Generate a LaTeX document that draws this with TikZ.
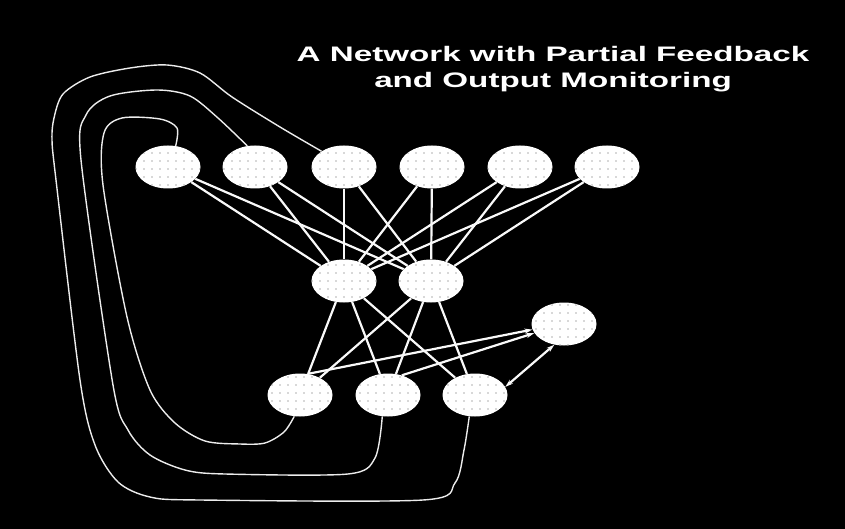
\documentclass[tikz,border=0pt]{standalone}
\usepackage{fontspec}
\setmainfont{Liberation Sans}
\usetikzlibrary{shapes.geometric,patterns.meta,arrows.meta}
\begin{document}
\begin{tikzpicture}[x=1pt,y=-1pt,
  neuron/.style={ellipse, minimum width=65pt, minimum height=43pt, inner sep=0pt,
    fill=white, postaction={pattern={Dots[distance=8pt,radius=0.8pt]}, pattern color=gray!60}},
  link/.style={draw=white!95!gray, line width=2.2pt},
  fback/.style={draw=white!85!gray, line width=1.4pt},
  tip/.style={-{Stealth[length=8pt,width=5pt]}},
  twotip/.style={{Stealth[length=8pt,width=5pt]}-{Stealth[length=8pt,width=5pt]}},
  title/.style={white, font=\bfseries\fontsize{21}{21}\selectfont, anchor=base}]
\path[fill=black, use as bounding box] (0,0) rectangle (845,529);

% title
\node[title] (t1) at (553,62) {\scalebox{1.58}[1]{A Network with Partial Feedback}};
\node[title] (t2) at (553,88) {\scalebox{1.58}[1]{and Output Monitoring}};

% nodes
\node[neuron] (T1) at (168,167) {};
\node[neuron] (T2) at (255,167) {};
\node[neuron] (T3) at (344,167) {};
\node[neuron] (T4) at (432,167) {};
\node[neuron] (T5) at (520,167) {};
\node[neuron] (T6) at (607,167) {};
\node[neuron] (M1) at (344,281) {};
\node[neuron] (M2) at (431,281) {};
\node[neuron] (B1) at (300,395) {};
\node[neuron] (B2) at (388,395) {};
\node[neuron] (B3) at (475,395) {};
\node[neuron] (Mon) at (564,324) {};

% feed-forward connections
\foreach \t in {T1,T2,T3,T4,T5,T6}
  \foreach \m in {M1,M2}
    \draw[link] (\t) -- (\m);
\foreach \m in {M1,M2}
  \foreach \b in {B1,B2,B3}
    \draw[link] (\m) -- (\b);

% output monitoring
\draw[link,tip] (B1.70) -- (Mon.190);
\draw[link,tip] (B2.55) -- (Mon.197);
\draw[link,twotip] (B3.15) -- (Mon.245);

% feedback loops
\draw[fback] plot[smooth, tension=0.5] coordinates {(T1.70) (177,128) (160,119) (122,118) (104,133) (103,185) (127,317) (150,390) (175,423) (205,441) (240,444) (265,443) (284,432) (B1.255)};
\draw[fback] plot[smooth, tension=0.5] coordinates {(T2.110) (218,118) (190,96) (157,90) (110,96) (86,115) (81,160) (113,385) (128,430) (150,455) (185,470) (225,474) (348,474) (375,458) (B2.255)};
\draw[fback] plot[smooth, tension=0.5] coordinates {(T3.145) (280,127) (232,97) (200,73) (167,65) (130,68) (90,77) (63,94) (54,118) (52,140) (56,180) (80,380) (95,445) (118,482) (150,497) (200,500) (423,500) (455,483) (464,450) (B3.255)};
\end{tikzpicture}
\end{document}
